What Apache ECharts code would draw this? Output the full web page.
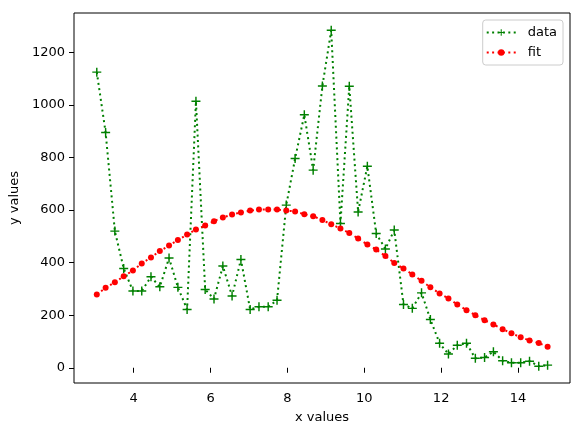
<!DOCTYPE html>
<html>
<head>
<meta charset="utf-8">
<script src="https://cdn.jsdelivr.net/npm/echarts@6/dist/echarts.min.js"></script>
<style>
  html, body { margin: 0; padding: 0; background: #fff; }
  #chart { width: 583px; height: 436px; }
</style>
</head>
<body>
<div id="chart"></div>
<script>
// x positions of the samples
const xValues = [
  3.04, 3.27, 3.51, 3.74, 3.98, 4.21, 4.45, 4.68, 4.92, 5.15,
  5.39, 5.62, 5.86, 6.09, 6.32, 6.56, 6.79, 7.03, 7.26, 7.50,
  7.73, 7.97, 8.20, 8.44, 8.67, 8.91, 9.14, 9.38, 9.61, 9.84,
  10.08, 10.31, 10.55, 10.78, 11.02, 11.25, 11.49, 11.72, 11.96, 12.19,
  12.42, 12.66, 12.89, 13.13, 13.36, 13.60, 13.83, 14.07, 14.30, 14.54,
  14.77
];

// measured values
const dataValues = [
  1125, 895, 520, 378, 292, 292, 346, 308, 418, 306,
  222, 1014, 298, 262, 387, 273, 412, 222, 232, 232,
  257, 619, 796, 963, 752, 1072, 1284, 549, 1071, 593,
  767, 511, 452, 524, 241, 226, 285, 184, 93, 52,
  86, 93, 36, 39, 61, 27, 19, 19, 25, 6,
  10
];

// fitted curve
const fitValues = [
  279, 304, 325, 348, 370, 397, 420, 444, 465, 486,
  507, 526, 541, 558, 572, 583, 591, 598, 602, 602,
  602, 598, 595, 584, 577, 562, 546, 530, 513, 492,
  469, 450, 425, 399, 378, 355, 331, 306, 283, 264,
  241, 219, 200, 181, 165, 147, 131, 116, 104, 94,
  80
];

const xTicks = [4, 6, 8, 10, 12, 14];
const yTicks = [0, 200, 400, 600, 800, 1000, 1200];

const font = 'DejaVu Sans';
const plus = 'path://M4.2,0H5.8V10H4.2Z M0,4.2H10V5.8H0Z';

const chart = echarts.init(document.getElementById('chart'));

const option = {
  animation: false,
  textStyle: { fontFamily: font },
  grid: {
    left: 74, right: 13, top: 13, bottom: 53,
    outerBoundsMode: 'none',
    containLabel: false,
    show: true, borderColor: '#000', borderWidth: 1, backgroundColor: '#fff'
  },
  legend: {
    orient: 'vertical',
    right: 20,
    top: 20,
    padding: [6, 6, 6, 3],
    itemGap: 7,
    itemWidth: 29,
    itemHeight: 8,
    borderColor: '#ccc',
    borderWidth: 1,
    borderRadius: 3,
    backgroundColor: 'rgba(255,255,255,0.8)',
    textStyle: { fontFamily: font, fontSize: 13, color: '#000', padding: [0, 0, 0, 7] },
    data: ['data', 'fit']
  },
  xAxis: {
    type: 'value',
    min: 2.447,
    max: 15.353,
    name: 'x values',
    nameLocation: 'middle',
    nameGap: 28,
    nameTextStyle: { fontFamily: font, fontSize: 13, color: '#000' },
    splitLine: { show: false },
    axisLine: { show: false },
    axisTick: { show: true, length: 5, lineStyle: { color: '#000' }, customValues: xTicks },
    axisLabel: { fontFamily: font, fontSize: 13, color: '#000', margin: 9, customValues: xTicks,
      formatter: v => String(v) }
  },
  yAxis: {
    type: 'value',
    min: -58,
    max: 1350,
    name: 'y values',
    nameLocation: 'middle',
    nameGap: 51,
    nameTextStyle: { fontFamily: font, fontSize: 13, color: '#000' },
    splitLine: { show: false },
    axisLine: { show: false },
    axisTick: { show: true, length: 5, lineStyle: { color: '#000' }, customValues: yTicks },
    axisLabel: { fontFamily: font, fontSize: 13, color: '#000', margin: 9, customValues: yTicks,
      formatter: v => String(v) }
  },
  series: [
    {
      name: 'data',
      type: 'line',
      data: xValues.map((x, i) => [x, dataValues[i]]),
      symbol: plus,
      symbolSize: 9,
      showAllSymbol: true,
      itemStyle: { color: '#008000' },
      lineStyle: { color: '#008000', width: 2, type: [2, 3.4] }
    },
    {
      name: 'fit',
      type: 'line',
      data: xValues.map((x, i) => [x, fitValues[i]]),
      symbol: 'circle',
      symbolSize: 6,
      showAllSymbol: true,
      itemStyle: { color: '#ff0000' },
      lineStyle: { color: '#ff0000', width: 2, type: [2, 3.4] }
    }
  ]
};

chart.setOption(option);
</script>
</body>
</html>
